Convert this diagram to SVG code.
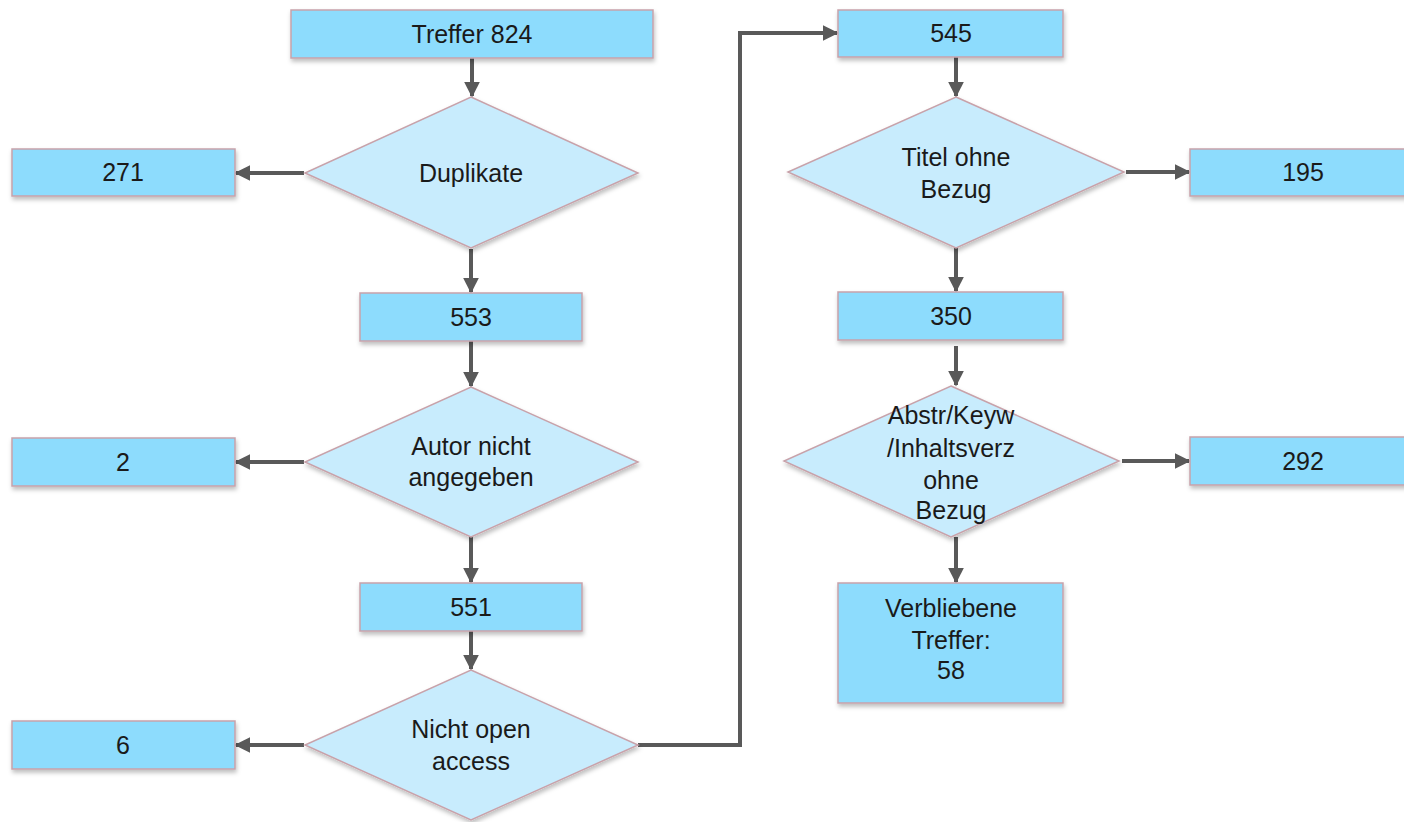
<svg xmlns="http://www.w3.org/2000/svg" width="1404" height="822" viewBox="0 0 1404 822">
<defs>
<marker id="ah" viewBox="0 0 10 10" refX="9" refY="5" markerWidth="4" markerHeight="4" orient="auto" markerUnits="strokeWidth"><path d="M0,0 L10,5 L0,10 Z" fill="#595959"/></marker>
<filter id="sh" x="-10%" y="-10%" width="130%" height="140%"><feDropShadow dx="1" dy="3" stdDeviation="2" flood-color="#000" flood-opacity="0.25"/></filter>
</defs>
<style>
.box{fill:#8ddcfd;stroke:#c8a2aa;stroke-width:1.5;filter:url(#sh)}
.dia{fill:#c8ecfd;stroke:#c8a2aa;stroke-width:1.5;filter:url(#sh)}
.t{font-family:"Liberation Sans",Arial,sans-serif;font-size:25px;fill:#1a1a1a;text-anchor:middle}
.c{fill:none;stroke:#595959;stroke-width:4;marker-end:url(#ah)}
</style>
<rect width="1404" height="822" fill="#fff"/>
<g id="connectors">
<line class="c" x1="472" y1="58" x2="472" y2="96"/>
<line class="c" x1="304" y1="173" x2="236" y2="173"/>
<line class="c" x1="471" y1="249" x2="471" y2="292"/>
<line class="c" x1="471" y1="341" x2="471" y2="386"/>
<line class="c" x1="304" y1="462" x2="236" y2="462"/>
<line class="c" x1="471" y1="537" x2="471" y2="582"/>
<line class="c" x1="471" y1="631" x2="471" y2="669"/>
<line class="c" x1="304" y1="745" x2="236" y2="745"/>
<polyline class="c" points="638,745 740,745 740,33 837,33"/>
<line class="c" x1="956" y1="57" x2="956" y2="96"/>
<line class="c" x1="1126" y1="172" x2="1189" y2="172"/>
<line class="c" x1="956" y1="248" x2="956" y2="291"/>
<line class="c" x1="956" y1="346" x2="956" y2="385"/>
<line class="c" x1="1122" y1="461" x2="1189" y2="461"/>
<line class="c" x1="956" y1="537" x2="956" y2="582"/>
</g>
<g id="n_treffer"><rect class="box" x="291" y="10" width="362" height="48"/><text class="t" x="472" y="43">Treffer 824</text></g>
<g id="n_duplikate"><polygon class="dia" points="471,97 638,173 471,248 305,173"/><text class="t" x="471" y="182">Duplikate</text></g>
<g id="n_271"><rect class="box" x="12" y="149" width="223" height="47"/><text class="t" x="123" y="181">271</text></g>
<g id="n_553"><rect class="box" x="360" y="293" width="222" height="48"/><text class="t" x="471" y="326">553</text></g>
<g id="n_autor"><polygon class="dia" points="471,387 638,462 471,537 305,462"/><text class="t" x="471" y="455">Autor nicht</text><text class="t" x="471" y="486">angegeben</text></g>
<g id="n_2"><rect class="box" x="12" y="438" width="223" height="48"/><text class="t" x="123" y="471">2</text></g>
<g id="n_551"><rect class="box" x="360" y="583" width="222" height="48"/><text class="t" x="471" y="616">551</text></g>
<g id="n_open"><polygon class="dia" points="471,670 638,745 471,820 305,745"/><text class="t" x="471" y="738">Nicht open</text><text class="t" x="471" y="770">access</text></g>
<g id="n_6"><rect class="box" x="12" y="721" width="223" height="48"/><text class="t" x="123" y="754">6</text></g>
<g id="n_545"><rect class="box" x="838" y="10" width="225" height="47"/><text class="t" x="951" y="42">545</text></g>
<g id="n_titel"><polygon class="dia" points="956,97 1124,172 956,248 788,172"/><text class="t" x="956" y="166">Titel ohne</text><text class="t" x="956" y="198">Bezug</text></g>
<g id="n_195"><rect class="box" x="1190" y="149" width="220" height="47"/><text class="t" x="1303" y="181">195</text></g>
<g id="n_350"><rect class="box" x="838" y="292" width="225" height="48"/><text class="t" x="951" y="325">350</text></g>
<g id="n_abstr"><polygon class="dia" points="951,386 1119,461 951,537 784,461"/><text class="t" x="951" y="424">Abstr/Keyw</text><text class="t" x="951" y="457">/Inhaltsverz</text><text class="t" x="951" y="489">ohne</text><text class="t" x="951" y="519">Bezug</text></g>
<g id="n_292"><rect class="box" x="1190" y="437" width="220" height="48"/><text class="t" x="1303" y="470">292</text></g>
<g id="n_rest"><rect class="box" x="838" y="583" width="225" height="120"/><text class="t" x="951" y="617">Verbliebene</text><text class="t" x="951" y="649">Treffer:</text><text class="t" x="951" y="679">58</text></g>
</svg>
